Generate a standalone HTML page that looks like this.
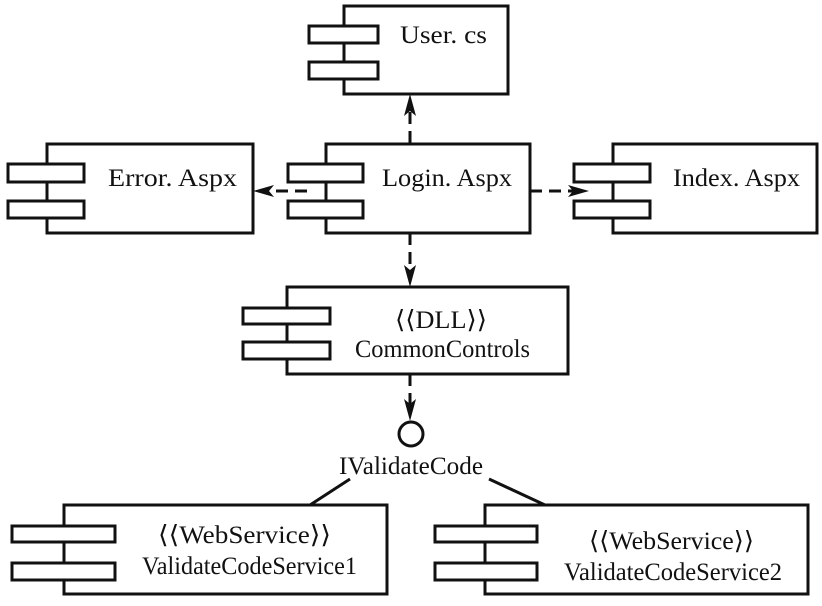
<!DOCTYPE html>
<html><head><meta charset="utf-8"><style>html,body{margin:0;padding:0;background:#fff}svg{display:block}</style></head>
<body>
<svg width="822" height="606" viewBox="0 0 822 606" xmlns="http://www.w3.org/2000/svg">
<g fill="#fff" stroke="#111" stroke-width="3">
<rect x="344" y="6" width="164" height="88"/>
<rect x="309" y="26" width="69" height="17"/><rect x="309" y="62" width="69" height="17"/>
<rect x="47" y="144" width="206" height="89"/>
<rect x="8" y="164" width="76" height="18"/><rect x="8" y="201" width="76" height="17"/>
<rect x="326" y="144" width="204" height="89"/>
<rect x="288" y="164" width="75" height="18"/><rect x="288" y="201" width="75" height="17"/>
<rect x="613" y="144" width="204" height="89"/>
<rect x="574" y="164" width="76" height="18"/><rect x="574" y="201" width="76" height="17"/>
<rect x="287" y="287" width="281" height="87"/>
<rect x="243" y="308" width="87" height="16"/><rect x="243" y="342" width="87" height="17"/>
<rect x="64" y="505" width="323" height="89"/>
<rect x="12" y="526" width="103" height="16"/><rect x="12" y="563" width="103" height="17"/>
<rect x="485" y="505" width="323" height="89"/>
<rect x="435" y="526" width="102" height="16"/><rect x="435" y="563" width="102" height="17"/>
<circle cx="411" cy="434" r="12"/>
</g>
<g stroke="#111" stroke-width="3" fill="none">
<line x1="410" y1="143" x2="410" y2="108" stroke-dasharray="12,7"/>
<line x1="307" y1="191" x2="266" y2="191" stroke-dasharray="12,7"/>
<line x1="530" y1="191" x2="576" y2="191" stroke-dasharray="12,7"/>
<line x1="410" y1="233" x2="410" y2="274" stroke-dasharray="12,7"/>
<line x1="410" y1="374" x2="410" y2="408" stroke-dasharray="12,7"/>
<line x1="350" y1="479" x2="310" y2="505"/>
<line x1="489" y1="479" x2="545" y2="505"/>
</g>
<g fill="#111">
<polygon points="410,94 404,116 410,111 416,116"/>
<polygon points="253,191 274,185 269,191 274,197"/>
<polygon points="589,191 568,185 573,191 568,197"/>
<polygon points="410,287 404,265 410,270 416,265"/>
<polygon points="410,421 404,399 410,404 416,399"/>
</g>
<g font-family="Liberation Serif, serif" font-size="25" fill="#111">
<text x="400" y="43" textLength="87" lengthAdjust="spacingAndGlyphs">User. cs</text>
<text x="108" y="186" textLength="129" lengthAdjust="spacingAndGlyphs">Error. Aspx</text>
<text x="382" y="186" textLength="130" lengthAdjust="spacingAndGlyphs">Login. Aspx</text>
<text x="673" y="186" textLength="127" lengthAdjust="spacingAndGlyphs">Index. Aspx</text>
<text x="395" y="328" textLength="92" lengthAdjust="spacingAndGlyphs">⟨⟨DLL⟩⟩</text>
<text x="355" y="357" textLength="175" lengthAdjust="spacingAndGlyphs">CommonControls</text>
<text x="339" y="474" textLength="144" lengthAdjust="spacingAndGlyphs">IValidateCode</text>
<text x="158" y="543" textLength="173" lengthAdjust="spacingAndGlyphs">⟨⟨WebService⟩⟩</text>
<text x="142" y="574" textLength="215" lengthAdjust="spacingAndGlyphs">ValidateCodeService1</text>
<text x="589" y="549" textLength="165" lengthAdjust="spacingAndGlyphs">⟨⟨WebService⟩⟩</text>
<text x="564" y="580" textLength="218" lengthAdjust="spacingAndGlyphs">ValidateCodeService2</text>
</g>
</svg>
</body></html>
